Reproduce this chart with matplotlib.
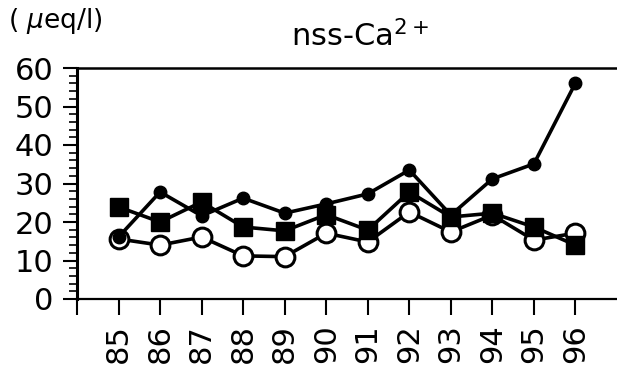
import numpy as np
import matplotlib
matplotlib.use("Agg")
import matplotlib.pyplot as plt
from matplotlib.ticker import MultipleLocator

years = [85, 86, 87, 88, 89, 90, 91, 92, 93, 94, 95, 96]
year_labels = ["85", "86", "87", "88", "89", "90", "91", "92", "93", "94", "95", "96"]

# three sites
dots = [16.1, 27.8, 21.6, 26.2, 22.3, 24.7, 27.3, 33.5, 21.8, 31.2, 35.1, 56.1]
squares = [23.9, 20.0, 25.2, 18.7, 17.7, 21.9, 17.9, 27.8, 21.3, 22.3, 18.7, 14.0]
rings = [15.6, 14.0, 16.1, 11.2, 11.0, 17.1, 14.8, 22.6, 17.4, 21.8, 15.3, 17.1]

plt.rcParams['font.family'] = ['DejaVu Sans']

fig = plt.figure(figsize=(6.17, 3.74), dpi=100)
ax = fig.add_axes([77 / 617, 1 - 299 / 374, 1 - 77 / 617, (299 - 68) / 374])

ax.plot(years, rings, color="black", lw=2.6, marker="o", ms=13.5,
        mfc="white", mec="black", mew=2.2, zorder=2)
ax.plot(years, dots, color="black", lw=2.6, marker="o", ms=9,
        mfc="black", mec="black", zorder=3)
ax.plot(years, squares, color="black", lw=2.6, marker="s", ms=13.5,
        mfc="black", mec="black", zorder=4)

ax.set_xlim(84, 97)
ax.set_ylim(0, 60)

ax.set_xticks(range(84, 97))
ax.set_xticklabels([""] + year_labels, rotation=90, fontsize=22)
ax.tick_params(axis="x", direction="out", length=11.5, width=1.5, pad=6.5)

ax.yaxis.set_major_locator(MultipleLocator(10))
ax.yaxis.set_minor_locator(MultipleLocator(2))
ax.tick_params(axis="y", which="major", direction="out", length=10, width=1.5,
               pad=7, labelsize=22)
ax.tick_params(axis="y", which="minor", direction="out", length=6, width=1.2)

ax.spines["right"].set_visible(False)
ax.spines["left"].set_linewidth(2.2)
ax.spines["top"].set_linewidth(1.8)
ax.spines["bottom"].set_linewidth(1.6)
ax.patch.set_visible(False)

fig.text(360 / 617, 1 - 46 / 374, "nss-Ca$^{2+}$", fontsize=22,
         ha="center", va="baseline")
fig.text(8 / 617, 1 - 28 / 374, "( $\\mu$eq/l)", fontsize=19,
         ha="left", va="baseline")

fig.savefig("out.png", dpi=100)
